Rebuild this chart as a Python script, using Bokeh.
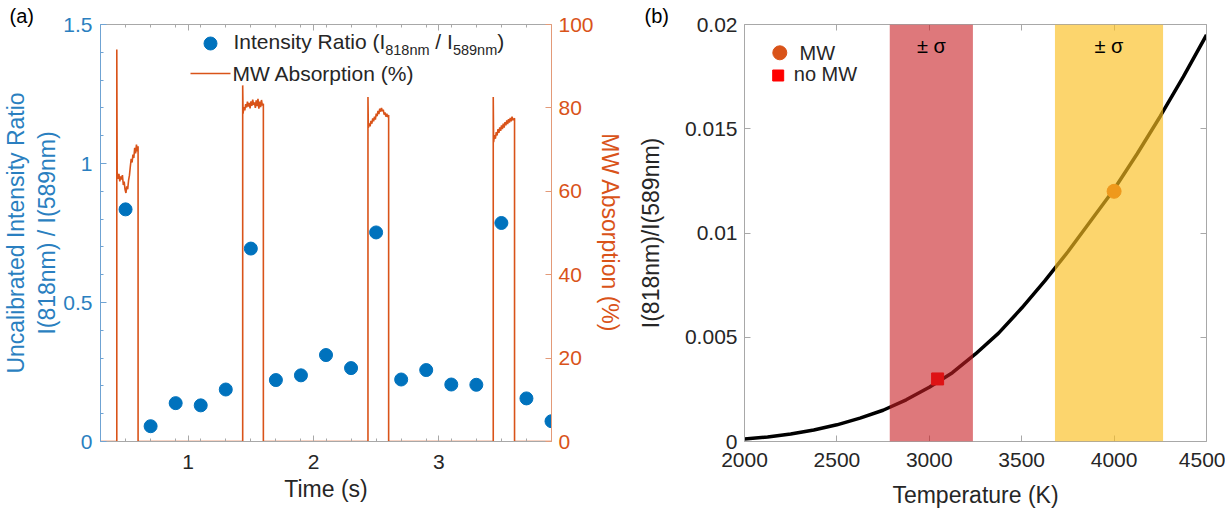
from bokeh.plotting import figure
from bokeh.layouts import row
from bokeh.models import (Range1d, LinearAxis, Label, BoxAnnotation,
                          CustomJSTickFormatter, FixedTicker)
from bokeh.embed import file_html
from bokeh.resources import INLINE

# ------------------------------------------------------------------ data (a)
ratio_time = [0.5, 0.7, 0.9, 1.1, 1.3, 1.5, 1.7, 1.9, 2.1, 2.3, 2.5, 2.7,
              2.9, 3.1, 3.3, 3.5, 3.7, 3.9]
ratio_value = [0.835, 0.055, 0.138, 0.130, 0.187, 0.694, 0.221, 0.238, 0.311,
               0.264, 0.752, 0.223, 0.257, 0.205, 0.204, 0.786, 0.155, 0.073]

baseline_time = [0.30, 3.90]

pulse1_time = [0.430, 0.430, 0.433, 0.440, 0.447, 0.454, 0.461, 0.468, 0.475,
               0.482, 0.489, 0.496, 0.503, 0.510, 0.517, 0.524, 0.531, 0.538,
               0.545, 0.552, 0.559, 0.566, 0.573, 0.580, 0.587, 0.594, 0.600,
               0.600]
pulse1_mw = [0, 94.0, 64.5, 63.0, 64.2, 62.4, 63.6, 62.8, 63.9, 61.5, 62.3,
             60.4, 59.6, 61.2, 60.5, 62.6, 63.8, 65.9, 67.8, 66.9, 68.8, 68.0,
             70.4, 69.1, 71.2, 69.6, 70.8, 0]

pulse2_time = [1.435, 1.435, 1.438, 1.445, 1.452, 1.459, 1.466, 1.473, 1.480,
               1.487, 1.494, 1.501, 1.508, 1.515, 1.522, 1.529, 1.536, 1.543,
               1.550, 1.557, 1.564, 1.571, 1.578, 1.585, 1.592, 1.600, 1.600]
pulse2_mw = [0, 85.4, 78.6, 80.2, 79.4, 80.9, 80.1, 81.5, 80.3, 81.2, 79.9,
             81.6, 80.5, 82.0, 80.7, 81.3, 80.0, 81.8, 80.4, 82.2, 79.8, 81.5,
             80.2, 81.9, 80.6, 81.0, 0]

pulse3_time = [2.435, 2.435, 2.438, 2.445, 2.452, 2.459, 2.466, 2.473, 2.480,
               2.487, 2.494, 2.501, 2.508, 2.515, 2.522, 2.529, 2.536, 2.543,
               2.550, 2.557, 2.564, 2.571, 2.578, 2.585, 2.592, 2.600, 2.600]
pulse3_mw = [0, 82.6, 75.2, 76.3, 75.6, 76.9, 76.2, 77.5, 76.8, 77.9, 77.2,
             78.6, 78.0, 79.3, 78.5, 79.8, 79.1, 80.0, 79.2, 79.6, 78.4, 78.9,
             77.9, 78.6, 77.8, 78.3, 0]

pulse4_time = [3.435, 3.435, 3.438, 3.445, 3.452, 3.459, 3.466, 3.473, 3.480,
               3.487, 3.494, 3.501, 3.508, 3.515, 3.522, 3.529, 3.536, 3.543,
               3.550, 3.557, 3.564, 3.571, 3.578, 3.585, 3.592, 3.605, 3.605]
pulse4_mw = [0, 82.6, 71.8, 73.5, 72.6, 74.2, 73.4, 74.9, 74.0, 75.3, 74.5,
             75.8, 74.9, 76.2, 75.3, 76.6, 75.8, 77.0, 76.1, 77.3, 76.5, 77.6,
             76.8, 77.9, 77.1, 77.5, 0]

time_ticks = [1, 2, 3]
ratio_ticks = [0, 0.5, 1, 1.5]
mw_ticks = [0, 20, 40, 60, 80, 100]

# ------------------------------------------------------------------ data (b)
temperature = [2000, 2125, 2250, 2375, 2500, 2625, 2750, 2875, 3000, 3125,
               3250, 3375, 3500, 3625, 3750, 3875, 4000, 4125, 4250, 4375, 4500]
model_ratio = [0.00012, 0.00022, 0.00036, 0.00055, 0.0008, 0.00112, 0.0015,
               0.0020, 0.0026, 0.0033, 0.0042, 0.0052, 0.0064, 0.0077, 0.0091,
               0.0106, 0.0121, 0.0138, 0.0156, 0.0175, 0.0195]
mw_temp, mw_ratio = [4000], [0.012]
nomw_temp, nomw_ratio = [3045], [0.003]
nomw_band = [2786, 3236]
mw_band = [3680, 4265]
temp_ticks = [2000, 2500, 3000, 3500, 4000, 4500]
ratio_b_ticks = [0, 0.005, 0.01, 0.015, 0.02]

# ------------------------------------------------------------------ styles
FONT = "Liberation Sans"
BLUE = "#0072BD"
BLUE_T = "#2A7FC0"
ORANGE = "#D95319"
DARK = "#262626"
GRAY = "#A8A8A8"
fmt_code = "return Number(tick.toFixed(4)).toString();"


def style_axis(ax, line_color, text_color, label_size="23px", tick_size="21px",
               standoff=8, label_standoff=5):
    ax.axis_line_color = line_color
    ax.major_tick_line_color = line_color
    ax.minor_tick_line_color = line_color
    ax.major_tick_in = 6
    ax.major_tick_out = 0
    ax.minor_tick_in = 3
    ax.minor_tick_out = 0
    ax.major_label_text_font = FONT
    ax.major_label_text_font_size = tick_size
    ax.major_label_text_color = text_color
    ax.major_label_standoff = standoff
    ax.axis_label_text_font = FONT
    ax.axis_label_text_font_size = label_size
    ax.axis_label_text_font_style = "normal"
    ax.axis_label_text_color = text_color
    ax.axis_label_standoff = label_standoff
    ax.formatter = CustomJSTickFormatter(code=fmt_code)


def hidden_axis(ticker, line_color):
    ax = LinearAxis(ticker=ticker)
    ax.axis_line_color = line_color
    ax.major_tick_line_color = line_color
    ax.minor_tick_line_color = line_color
    ax.major_tick_in = 6
    ax.major_tick_out = 0
    ax.minor_tick_in = 3
    ax.minor_tick_out = 0
    ax.formatter = CustomJSTickFormatter(code="return '';")
    ax.major_label_standoff = 0
    return ax


def lab(p, x, y, text, dx, dy, size, color="black", align="left"):
    p.add_layout(Label(x=x, y=y, text=text, x_offset=dx, y_offset=dy,
                       text_font=FONT, text_font_size=size, text_color=color,
                       text_align=align, text_baseline="middle"))


def panel_title(p, text, offset):
    p.title.text = text
    p.title.align = "left"
    p.title.offset = offset
    p.title.standoff = -5
    p.title.text_font = FONT
    p.title.text_font_size = "20px"
    p.title.text_font_style = "normal"
    p.title.text_color = "black"


# ------------------------------------------------------------------ panel (a)
FW1, FH = 451, 417
x1r = (0.3, 3.9)
y1r = (0, 1.5)
p1 = figure(frame_width=FW1, frame_height=FH, x_range=Range1d(*x1r),
            y_range=Range1d(*y1r), min_border_left=90, min_border_right=70,
            min_border_top=24, min_border_bottom=56, output_backend="svg",
            toolbar_location=None, background_fill_color="white",
            border_fill_color="white", title="(a)")
panel_title(p1, "(a)", -91)
p1.grid.visible = False
p1.outline_line_color = None
p1.extra_y_ranges = {"mw": Range1d(0, 100)}

p1.xaxis.ticker = FixedTicker(ticks=time_ticks, minor_ticks=ratio_time)
style_axis(p1.xaxis[0], GRAY, DARK, standoff=13, label_standoff=4)
p1.xaxis.axis_label = "Time (s)"
p1.yaxis.ticker = FixedTicker(ticks=ratio_ticks,
                              minor_ticks=[i / 10 for i in range(16)])
style_axis(p1.yaxis[0], "#6FA3D3", BLUE_T, standoff=8, label_standoff=0)
p1.yaxis.axis_label = "Uncalibrated Intensity Ratio\nI(818nm) / I(589nm)"

ax_r = LinearAxis(y_range_name="mw", ticker=FixedTicker(ticks=mw_ticks))
style_axis(ax_r, "#E39A78", ORANGE, standoff=7, label_standoff=0)
ax_r.axis_label = "MW Absorption (%)"
p1.add_layout(ax_r, "right")
p1.add_layout(hidden_axis(FixedTicker(ticks=time_ticks, minor_ticks=ratio_time),
                          GRAY), "above")

mw_time = baseline_time[:1] + pulse1_time + pulse2_time + pulse3_time + pulse4_time + baseline_time[1:]
mw_abs = [0] + pulse1_mw + pulse2_mw + pulse3_mw + pulse4_mw + [0]
p1.line(mw_time, mw_abs, y_range_name="mw", line_color=ORANGE, line_width=1.6)
p1.scatter(ratio_time, ratio_value, size=13, marker="circle",
           fill_color=BLUE, line_color=BLUE)

# manual legend (a), positions in pixels converted to data
sx1 = (x1r[1] - x1r[0]) / FW1
sy1 = (y1r[1] - y1r[0]) / FH
lx = x1r[0] + 110 * sx1
ly = y1r[1] - 19 * sy1
p1.scatter([lx], [ly], size=13, marker="circle", fill_color=BLUE, line_color=BLUE)
p1.line([lx - 20 * sx1, lx + 20 * sx1], [ly - 30 * sy1] * 2, line_color=ORANGE,
        line_width=1.6)

pieces = [("Intensity Ratio (I", 23, 2, "21px"),
          ("818nm", 174.7, -6, "14.5px"),
          ("/", 224.8, 2, "21px"),
          ("I", 236.6, 2, "21px"),
          ("589nm", 242.4, -6, "14.5px"),
          (")", 286.7, 2, "21px")]
for t, dx, dy, fs in pieces:
    lab(p1, lx, ly, t, dx, dy, fs, DARK)
lab(p1, lx, ly, "MW Absorption (%)", 22, -30, "21px", DARK)

# ------------------------------------------------------------------ panel (b)
FW2 = 462
x2r = (2000, 4500)
y2r = (0, 0.02)
p2 = figure(frame_width=FW2, frame_height=FH, x_range=Range1d(*x2r),
            y_range=Range1d(*y2r), min_border_left=119, min_border_right=19,
            min_border_top=24, min_border_bottom=56, output_backend="svg",
            toolbar_location=None, background_fill_color="white",
            border_fill_color="white", title="(b)")
panel_title(p2, "(b)", -100)
p2.grid.visible = False
p2.outline_line_color = None
p2.xaxis.ticker = FixedTicker(ticks=temp_ticks)
style_axis(p2.xaxis[0], GRAY, DARK, standoff=11, label_standoff=12)
p2.xaxis.axis_label = "Temperature (K)"
p2.yaxis.ticker = FixedTicker(ticks=ratio_b_ticks)
style_axis(p2.yaxis[0], GRAY, DARK, standoff=7, label_standoff=18)
p2.yaxis.axis_label = "I(818nm)/I(589nm)"
p2.add_layout(hidden_axis(FixedTicker(ticks=temp_ticks), GRAY), "above")
p2.add_layout(hidden_axis(FixedTicker(ticks=ratio_b_ticks), GRAY), "right")

p2.line(temperature, model_ratio, line_color="black", line_width=3.5)
p2.scatter(mw_temp, mw_ratio, marker="circle", size=14, fill_color=ORANGE,
           line_color=ORANGE)
p2.scatter(nomw_temp, nomw_ratio, marker="square", size=12, fill_color="#FF0000",
           line_color="#FF0000")

p2.add_layout(BoxAnnotation(left=nomw_band[0], right=nomw_band[1],
                            fill_color="#C81E23", fill_alpha=0.6, line_color=None))
p2.add_layout(BoxAnnotation(left=mw_band[0], right=mw_band[1],
                            fill_color="#FABE1E", fill_alpha=0.65, line_color=None))
for band in (nomw_band, mw_band):
    lab(p2, (band[0] + band[1]) / 2, y2r[1], "\u00b1 \u03c3", 0, -21, "20px",
        "black", "center")

sx2 = (x2r[1] - x2r[0]) / FW2
sy2 = (y2r[1] - y2r[0]) / FH
mx, my = x2r[0] + 35.3 * sx2, y2r[1] - 28.3 * sy2
qx, qy = x2r[0] + 33.7 * sx2, y2r[1] - 51 * sy2
p2.scatter([mx], [my], marker="circle", size=14, fill_color=ORANGE, line_color=ORANGE)
p2.scatter([qx], [qy], marker="square", size=11, fill_color="#FF0000", line_color="#FF0000")
lab(p2, mx, my, "MW", 19.7, 0, "20px", DARK)
lab(p2, qx, qy, "no MW", 15.6, 1.5, "20px", DARK)

layout = row(p1, p2)
open("out.html", "w").write(file_html(layout, INLINE))
